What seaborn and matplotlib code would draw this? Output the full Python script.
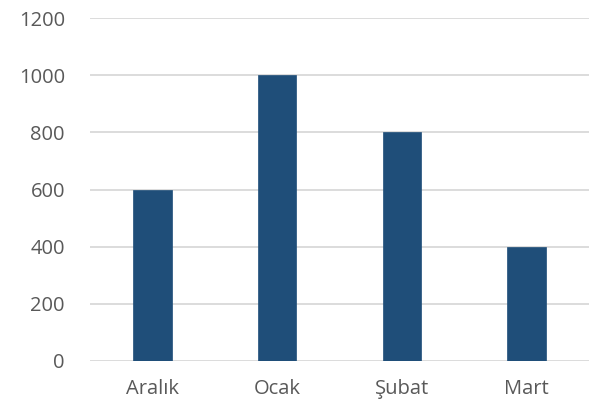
import matplotlib
matplotlib.use("Agg")
import matplotlib.pyplot as plt
import seaborn as sns
import pandas as pd

categories = ["Aralık", "Ocak", "Şubat", "Mart"]
values = [600, 1000, 800, 400]

sns.set_theme(style="white")
plt.rcParams['font.family'] = ['Open Sans', 'DejaVu Sans']

df = pd.DataFrame({"month": categories, "value": values})

fig = plt.figure(figsize=(6.03, 4.08), dpi=100)
ax = fig.add_axes([90/603, 1-361/408, 499/603, (361-18)/408])
sns.barplot(data=df, x="month", y="value", color="#1F4E79", width=0.31,
            saturation=1, ax=ax, edgecolor="#1F4E79", linewidth=0.5)
ax.set_xlim(-0.5, 3.5)
ax.set_ylim(0, 1200)
ax.set_yticks(range(0, 1201, 200))
ax.yaxis.grid(True, color="#D9D9D9", linewidth=1.3)
ax.set_axisbelow(True)
for s in ax.spines.values():
    s.set_visible(False)
ax.tick_params(axis="both", length=0, labelsize=14.5, labelcolor="#595959")
ax.tick_params(axis="y", pad=18)
ax.tick_params(axis="x", pad=13)
ax.set_xlabel("")
ax.set_ylabel("")
fig.savefig("out.png", dpi=100, facecolor="white")
